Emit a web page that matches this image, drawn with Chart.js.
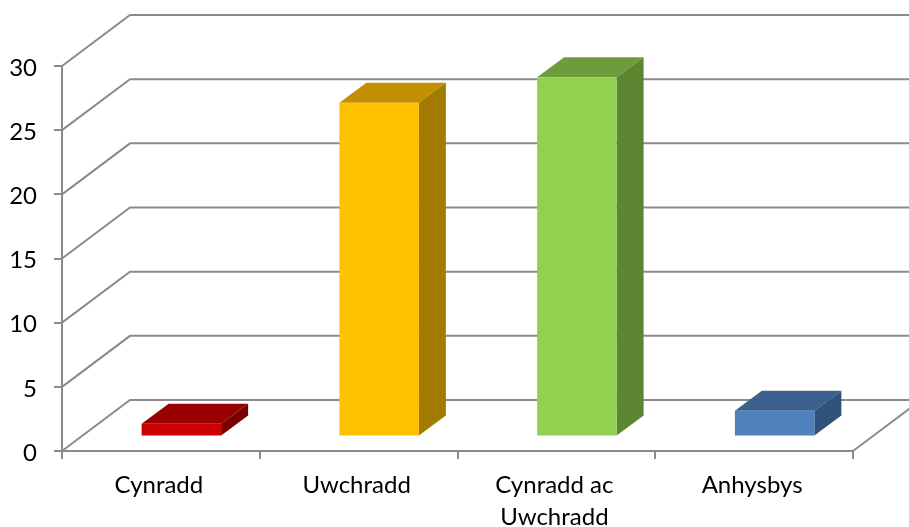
<!DOCTYPE html>
<html>
<head>
<meta charset="utf-8">
<style>
  html, body { margin: 0; padding: 0; background: #fff; }
  canvas { display: block; }
</style>
<script src="https://cdn.jsdelivr.net/npm/chart.js@4/dist/chart.umd.min.js"></script>
</head>
<body>
<canvas id="barchart" width="909" height="527"></canvas>
<script>
const categories = ['Cynradd', 'Uwchradd', ['Cynradd ac', 'Uwchradd'], 'Anhysbys'];
const values = [1, 26, 28, 2];
const yTicks = [0, 5, 10, 15, 20, 25, 30];

const frontColors = ['#CC0000', '#FFC000', '#92D050', '#4F81BD'];
const topColors = ['#990000', '#C09000', '#6E9C3C', '#3C618E'];
const sideColors = ['#7A0000', '#A37B00', '#5E8632', '#31527A'];
const axisColor = '#8B8B8B';

// offsets of the fake 3d: back wall, bar plane inside the floor, bar depth
const wall = { x: 68, y: -51 };
const plane = { x: 20.5, y: -14.5 };
const depth = { x: 27, y: -20 };

function poly(ctx, pts, fill) {
    ctx.beginPath();
    pts.forEach((p, i) => i ? ctx.lineTo(p[0], p[1]) : ctx.moveTo(p[0], p[1]));
    ctx.closePath();
    ctx.fillStyle = fill;
    ctx.fill();
}

const fake3d = {
    id: 'fake3d',
    beforeDatasetsDraw(chart) {
        const ctx = chart.ctx;
        const area = chart.chartArea;
        const y = chart.scales.y;

        // side wall diagonals and back wall lines
        ctx.save();
        ctx.strokeStyle = axisColor;
        ctx.lineWidth = 2;
        yTicks.forEach(v => {
            const py = y.getPixelForValue(v);
            ctx.beginPath();
            ctx.moveTo(area.left, py);
            ctx.lineTo(area.left + wall.x, py + wall.y);
            ctx.lineTo(chart.width, py + wall.y);
            ctx.stroke();
        });
        // right edge of the floor
        ctx.beginPath();
        ctx.moveTo(area.right, area.bottom);
        ctx.lineTo(area.right + wall.x, area.bottom + wall.y);
        ctx.stroke();
        ctx.restore();

        // top and side faces of the bars
        ctx.save();
        ctx.translate(plane.x, plane.y);
        chart.getDatasetMeta(0).data.forEach((bar, i) => {
            const l = bar.x - bar.width / 2;
            const r = bar.x + bar.width / 2;
            poly(ctx, [[l, bar.y], [r, bar.y], [r + depth.x, bar.y + depth.y], [l + depth.x, bar.y + depth.y]], topColors[i]);
            poly(ctx, [[r, bar.y], [r, bar.base], [r + depth.x, bar.base + depth.y], [r + depth.x, bar.y + depth.y]], sideColors[i]);
        });
        ctx.restore();

        // the bars themselves stand inside the floor
        ctx.save();
        ctx.translate(plane.x, plane.y);
    },
    afterDatasetsDraw(chart) {
        chart.ctx.restore();
    }
};

const myChart = new Chart(document.getElementById('barchart').getContext('2d'), {
    type: 'bar',
    data: {
        labels: categories,
        datasets: [{
            data: values,
            backgroundColor: frontColors,
            borderWidth: 0,
            categoryPercentage: 1,
            barPercentage: 0.402,
            clip: false
        }]
    },
    options: {
        responsive: false,
        animation: false,
        layout: { padding: { top: 66, right: 56, left: 0, bottom: 0 } },
        plugins: { legend: { display: false }, tooltip: { enabled: false } },
        scales: {
            x: {
                grid: { color: axisColor, lineWidth: 2, drawOnChartArea: false, tickLength: 8 },
                border: { color: axisColor, width: 2 },
                ticks: {
                    color: '#000',
                    maxRotation: 0,
                    autoSkip: false,
                    padding: 10,
                    labelOffset: -2,
                    font: { family: 'Lato', size: 24, lineHeight: 1.33 }
                },
                afterFit(scale) { scale.height = 76; }
            },
            y: {
                min: 0,
                max: 30,
                grid: { color: axisColor, lineWidth: 2, drawOnChartArea: false, tickLength: 8 },
                border: { color: axisColor, width: 2 },
                ticks: {
                    stepSize: 5,
                    color: '#000',
                    padding: 17,
                    labelOffset: 2,
                    font: { family: 'Lato', size: 24 }
                },
                afterFit(scale) { scale.width = 62; }
            }
        }
    },
    plugins: [fake3d]
});
</script>
</body>
</html>
